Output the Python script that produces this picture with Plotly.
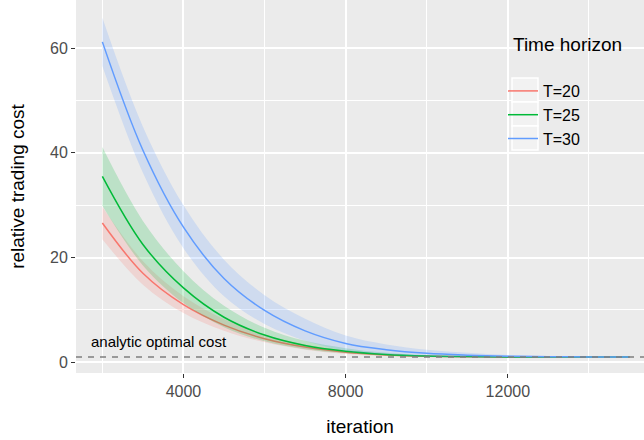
import plotly.graph_objects as go

# ---------------- data ----------------
iteration = [2000, 3000, 4000, 5000, 6000, 7000, 8000, 9000, 10000,
             11000, 12000, 13000, 14000, 15000]

t20_mean  = [26.6, 17.0, 11.0, 7.1, 4.5, 2.9, 1.9, 1.4, 1.15, 1.05, 1.02, 1.0, 1.0, 1.0]
t20_upper = [29.7, 19.3, 12.6, 8.2, 5.3, 3.4, 2.3, 1.6, 1.3, 1.12, 1.05, 1.02, 1.01, 1.0]
t20_lower = [23.5, 14.8, 9.4, 6.0, 3.8, 2.4, 1.6, 1.2, 1.03, 0.98, 0.99, 1.0, 1.0, 1.0]

t25_mean  = [35.5, 22.5, 14.2, 8.6, 5.2, 3.2, 2.1, 1.5, 1.2, 1.08, 1.03, 1.01, 1.0, 1.0]
t25_upper = [41.1, 27.0, 17.4, 10.8, 6.6, 4.1, 2.7, 1.8, 1.35, 1.15, 1.07, 1.03, 1.01, 1.0]
t25_lower = [29.9, 18.5, 11.3, 6.7, 4.0, 2.5, 1.7, 1.25, 1.05, 0.98, 0.97, 0.98, 0.99, 1.0]

t30_mean  = [61.2, 40.5, 25.8, 16.0, 9.9, 6.0, 3.6, 2.4, 1.7, 1.35, 1.15, 1.06, 1.02, 1.0]
t30_upper = [65.8, 45.0, 30.0, 19.6, 12.8, 8.3, 5.1, 3.4, 2.4, 1.8, 1.4, 1.2, 1.1, 1.05]
t30_lower = [56.6, 36.2, 21.8, 12.6, 7.3, 4.1, 2.2, 1.5, 1.1, 0.95, 0.92, 0.94, 0.96, 0.97]

series_names = ["T=20", "T=25", "T=30"]
optimal_cost = 1.0
annotation_text = "analytic optimal cost"
annotation_pos = (3400, 4.0)

x_ticks = [4000, 8000, 12000]
x_ticktext = ["4000", "8000", "12000"]
x_minor = [2000, 6000, 10000, 14000]
y_ticks = [0, 20, 40, 60]
y_ticktext = ["0", "20", "40", "60"]
y_minor = [10, 30, 50]

# ---------------- styling ----------------
W, H = 644, 440
ML, MR, MT, MB = 76, 0, 0, 67
PW, PH = W - ML - MR, H - MT - MB
FONT = "Liberation Sans, Arial, Helvetica, sans-serif"
line_colors = ["#F8766D", "#00BA38", "#619CFF"]
fill_colors = ["rgba(248,118,109,0.2)", "rgba(0,186,56,0.2)", "rgba(97,156,255,0.2)"]

def px_x(p):
    return (p - ML) / PW

def px_y(p):
    return (H - MB - p) / PH

fig = go.Figure()
means = [t20_mean, t25_mean, t30_mean]
uppers = [t20_upper, t25_upper, t30_upper]
lowers = [t20_lower, t25_lower, t30_lower]

for name, m, u, lo, lc, fc in zip(series_names, means, uppers, lowers, line_colors, fill_colors):
    fig.add_trace(go.Scatter(x=iteration, y=lo, mode="lines", line=dict(width=0, shape="spline", color=lc),
                             showlegend=False, hoverinfo="skip", legendgroup=name))
    fig.add_trace(go.Scatter(x=iteration, y=u, mode="lines", line=dict(width=0, shape="spline", color=lc),
                             fill="tonexty", fillcolor=fc, showlegend=False, hoverinfo="skip",
                             legendgroup=name))
    fig.add_trace(go.Scatter(x=iteration, y=m, mode="lines", name=name, legendgroup=name,
                             line=dict(width=1.5, shape="spline", color=lc)))

fig.add_hline(y=optimal_cost, line=dict(color="#7F7F7F", width=1.5, dash="6px,6px"))

fig.add_annotation(x=annotation_pos[0], y=annotation_pos[1], text=annotation_text, showarrow=False,
                   font=dict(family=FONT, size=15, color="black"), xanchor="center", yanchor="middle")

# legend title and key backgrounds
fig.add_annotation(xref="paper", yref="paper", x=px_x(511), y=px_y(45), text="Time horizon",
                   showarrow=False, xanchor="left", yanchor="middle",
                   font=dict(family=FONT, size=19, color="black"))
for i in range(3):
    cy = 90 + 24 * i
    fig.add_shape(type="rect", xref="paper", yref="paper",
                  x0=px_x(512), x1=px_x(538), y0=px_y(cy - 12), y1=px_y(cy + 12),
                  fillcolor="#F2F2F2", line=dict(color="white", width=1.5), layer="above")

axis_common = dict(
    showgrid=True, gridcolor="white", gridwidth=2, zeroline=False, showline=False,
    ticks="outside", ticklen=4, tickwidth=1, tickcolor="#333333",
    tickfont=dict(family=FONT, size=16, color="#4D4D4D"),
    tickmode="array",
)

fig.update_layout(
    width=W, height=H,
    margin=dict(l=ML, r=MR, t=MT, b=MB, autoexpand=False),
    paper_bgcolor="white", plot_bgcolor="#EBEBEB",
    font=dict(family=FONT),
    xaxis=dict(range=[1350, 1350 + PW / 0.04055], tickvals=x_ticks, ticktext=x_ticktext,
               minor=dict(tickvals=x_minor, showgrid=True, gridcolor="white", gridwidth=1, ticks=""),
               title=dict(text="iteration", font=dict(family=FONT, size=19, color="black"), standoff=20),
               **axis_common),
    yaxis=dict(range=[-2.05, 69.2], tickvals=y_ticks, ticktext=y_ticktext,
               minor=dict(tickvals=y_minor, showgrid=True, gridcolor="white", gridwidth=1, ticks=""),
               title=dict(text="relative trading cost", font=dict(family=FONT, size=19, color="black"), standoff=20),
               **axis_common),
    legend=dict(x=px_x(503), y=px_y(74), xanchor="left", yanchor="top", bgcolor="rgba(0,0,0,0)",
                font=dict(family=FONT, size=16, color="black"), itemwidth=30, tracegroupgap=0,
                traceorder="grouped"),
    showlegend=True,
)

fig.write_html("out.html", config={"displayModeBar": False},
               post_script="document.body.style.margin='0';document.body.style.overflow='hidden';")
